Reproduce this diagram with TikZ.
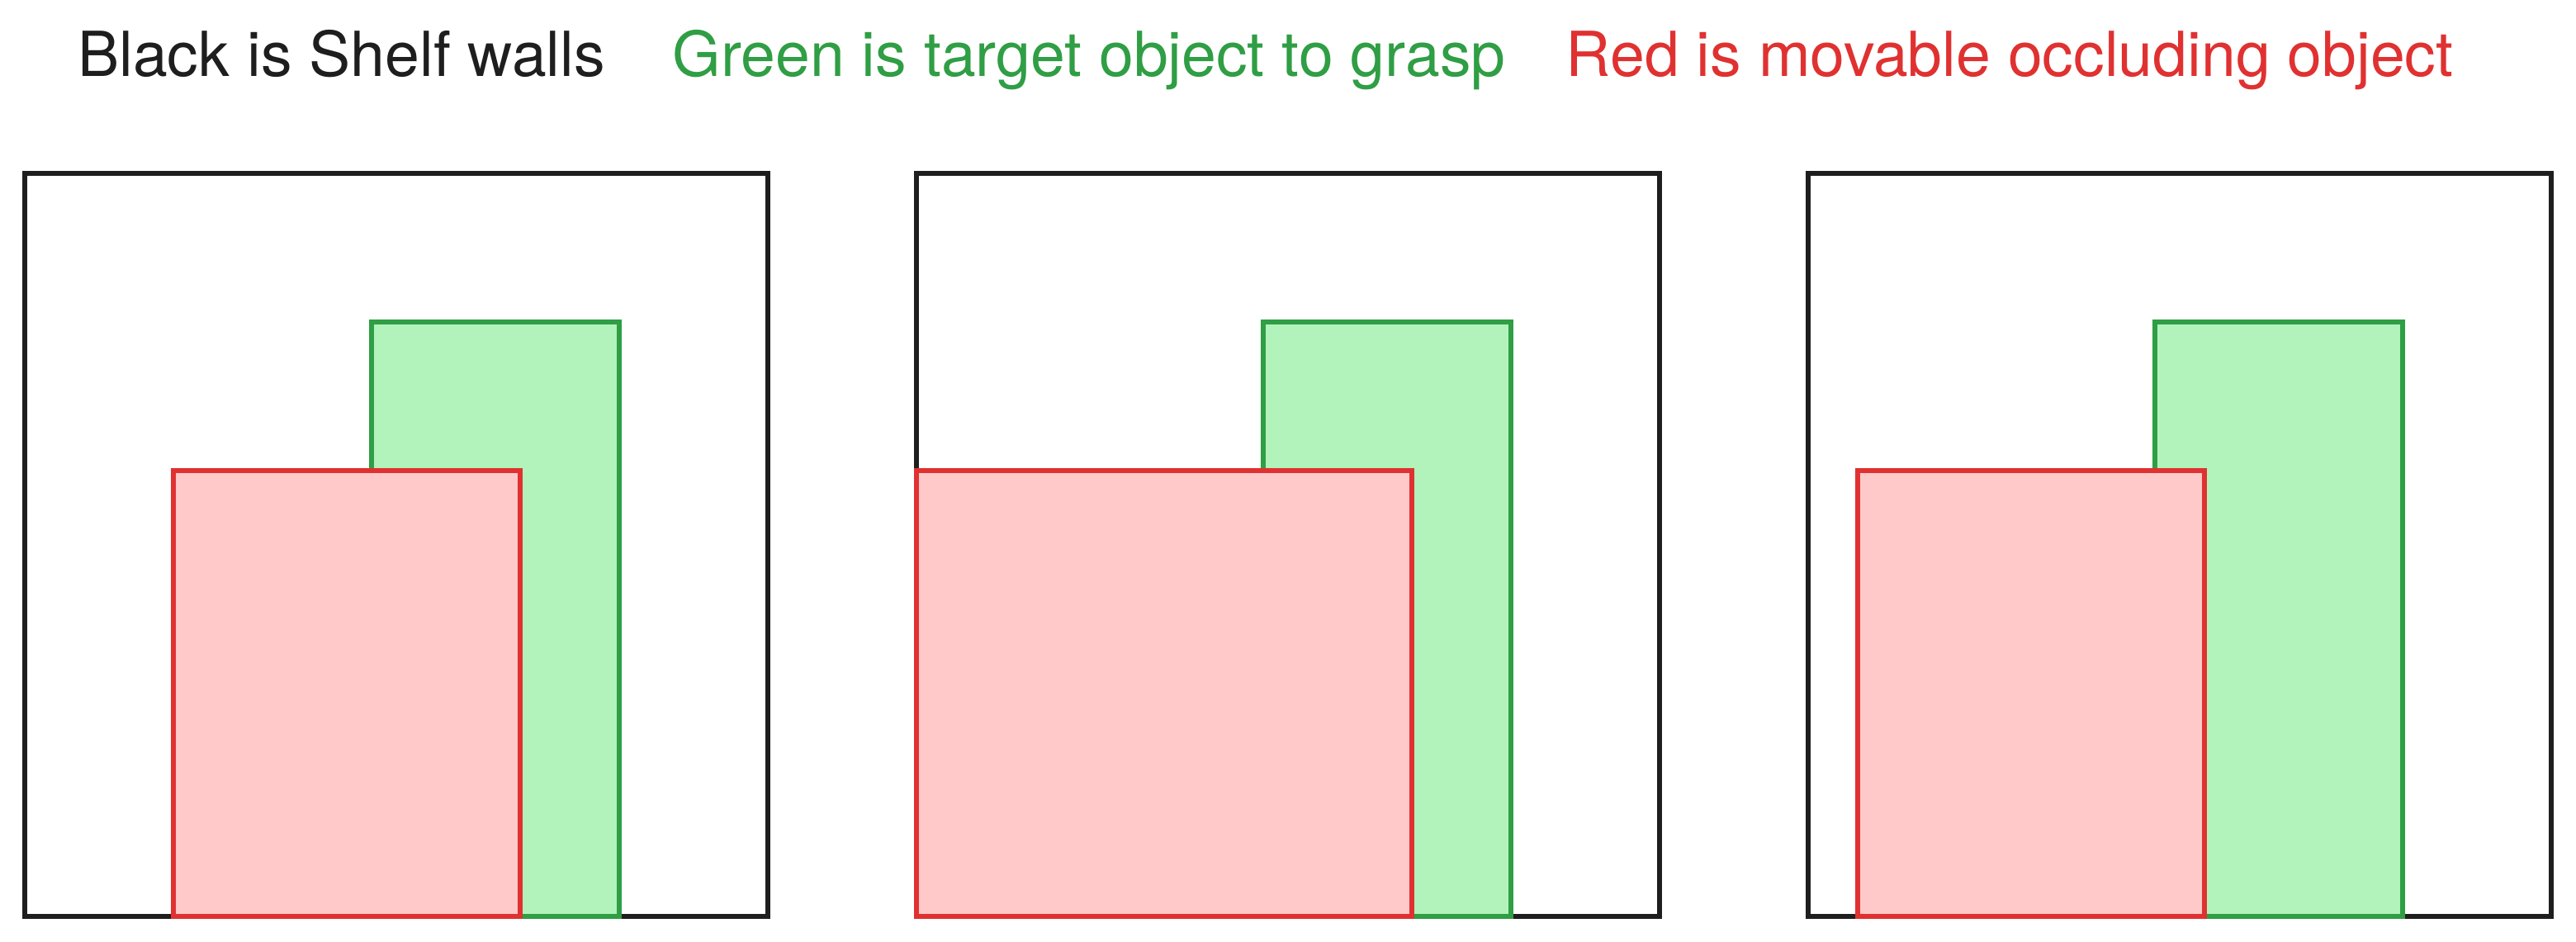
\documentclass[tikz,border=0pt]{standalone}
\usepackage{fontspec}
\setmainfont{TeX Gyre Heros}
\usepackage{xcolor}
\usetikzlibrary{positioning}
\definecolor{wallgray}{HTML}{1E1E1E}
\definecolor{targetgreen}{HTML}{2F9E44}
\definecolor{targetfill}{HTML}{B2F2BB}
\definecolor{occred}{HTML}{E03131}
\definecolor{occfill}{HTML}{FFC9C9}

\begin{document}
\begin{tikzpicture}[
  wall/.style={draw=wallgray, line width=1.8pt},
  target/.style={draw=targetgreen, fill=targetfill, line width=1.7pt},
  occluder/.style={draw=occred, fill=occfill, line width=1.7pt},
  legend/.style={font=\fontsize{21.4}{25}\selectfont, anchor=base west, inner sep=0pt}
]
  \useasboundingbox (0,0) rectangle (31.2,11.4);

  \node[legend, text=wallgray]    (lblack) at (0.935,10.47) {Black is Shelf walls};
  \node[legend, text=targetgreen] (lgreen) at (8.14,10.47)  {Green is target object to grasp};
  \node[legend, text=occred]      (lred)   at (18.96,10.47) {Red is movable occluding object};

  % three shelf scenes, only the red box changes
  \foreach \px/\rl/\rr in {0.30/1.8/6.0, 11.10/0/6.0, 21.90/0.6/4.8}{
    \begin{scope}[xshift=\px cm, yshift=0.30cm]
      \draw[wall] (0,0) rectangle (9,9);
      \draw[target] (4.2,0) rectangle (7.2,7.2);
      \draw[occluder] (\rl,0) rectangle (\rr,5.4);
    \end{scope}
  }
\end{tikzpicture}
\end{document}
